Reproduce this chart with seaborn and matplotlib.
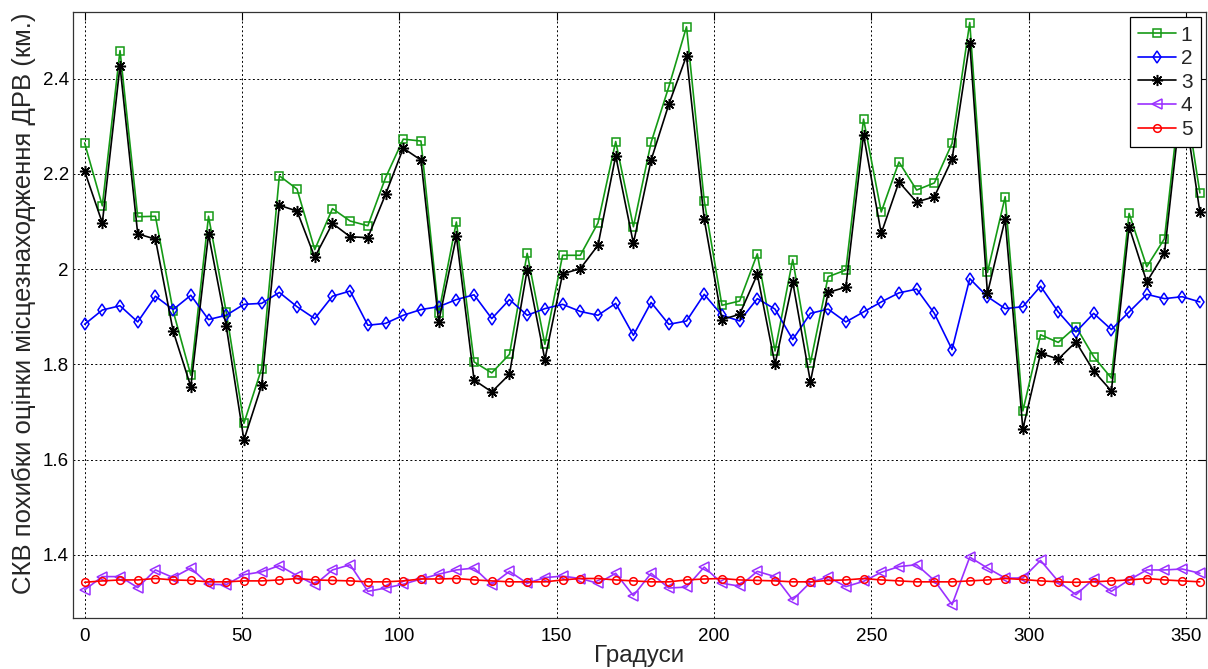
import matplotlib
matplotlib.use("Agg")
import matplotlib.pyplot as plt
from matplotlib.ticker import FuncFormatter
import seaborn as sns

degrees = [0, 5.625, 11.25, 16.875, 22.5, 28.125, 33.75, 39.375,
           45, 50.625, 56.25, 61.875, 67.5, 73.125, 78.75, 84.375,
           90, 95.625, 101.25, 106.875, 112.5, 118.125, 123.75, 129.375,
           135, 140.625, 146.25, 151.875, 157.5, 163.125, 168.75, 174.375,
           180, 185.625, 191.25, 196.875, 202.5, 208.125, 213.75, 219.375,
           225, 230.625, 236.25, 241.875, 247.5, 253.125, 258.75, 264.375,
           270, 275.625, 281.25, 286.875, 292.5, 298.125, 303.75, 309.375,
           315, 320.625, 326.25, 331.875, 337.5, 343.125, 348.75, 354.375]

series_1 = [2.265, 2.133, 2.459, 2.110, 2.111, 1.912, 1.777, 2.111,
            1.910, 1.676, 1.791, 2.196, 2.168, 2.041, 2.127, 2.101,
            2.091, 2.192, 2.273, 2.269, 1.907, 2.099, 1.805, 1.782,
            1.821, 2.033, 1.842, 2.029, 2.029, 2.097, 2.268, 2.089,
            2.266, 2.383, 2.509, 2.144, 1.924, 1.933, 2.032, 1.828,
            2.020, 1.803, 1.984, 1.998, 2.315, 2.120, 2.225, 2.166,
            2.181, 2.264, 2.518, 1.993, 2.152, 1.702, 1.862, 1.846,
            1.879, 1.816, 1.771, 2.117, 2.005, 2.064, 2.400, 2.160]

series_2 = [1.884, 1.914, 1.923, 1.889, 1.943, 1.915, 1.945, 1.894,
            1.903, 1.926, 1.928, 1.951, 1.921, 1.896, 1.943, 1.954,
            1.882, 1.886, 1.903, 1.915, 1.921, 1.936, 1.946, 1.896,
            1.936, 1.903, 1.917, 1.926, 1.911, 1.903, 1.928, 1.861,
            1.930, 1.884, 1.891, 1.947, 1.903, 1.891, 1.938, 1.916,
            1.852, 1.907, 1.916, 1.889, 1.910, 1.931, 1.950, 1.958,
            1.907, 1.831, 1.980, 1.942, 1.917, 1.921, 1.964, 1.910,
            1.868, 1.907, 1.873, 1.910, 1.947, 1.938, 1.942, 1.931]

series_3 = [2.206, 2.097, 2.427, 2.074, 2.063, 1.870, 1.753, 2.073,
            1.880, 1.641, 1.756, 2.134, 2.122, 2.025, 2.096, 2.068,
            2.066, 2.157, 2.254, 2.229, 1.889, 2.069, 1.767, 1.742,
            1.779, 1.999, 1.810, 1.990, 2.001, 2.050, 2.238, 2.054,
            2.229, 2.346, 2.448, 2.105, 1.894, 1.905, 1.989, 1.800,
            1.973, 1.763, 1.951, 1.962, 2.282, 2.075, 2.183, 2.141,
            2.152, 2.231, 2.476, 1.949, 2.105, 1.664, 1.823, 1.811,
            1.847, 1.786, 1.744, 2.089, 1.973, 2.034, 2.370, 2.120]

series_4 = [1.326, 1.354, 1.354, 1.331, 1.368, 1.352, 1.372, 1.338,
            1.337, 1.358, 1.364, 1.377, 1.356, 1.337, 1.368, 1.379,
            1.323, 1.330, 1.338, 1.349, 1.359, 1.368, 1.372, 1.337,
            1.365, 1.340, 1.352, 1.355, 1.350, 1.340, 1.361, 1.314,
            1.361, 1.330, 1.332, 1.374, 1.340, 1.334, 1.365, 1.354,
            1.305, 1.342, 1.353, 1.333, 1.344, 1.363, 1.375, 1.379,
            1.346, 1.295, 1.395, 1.372, 1.351, 1.351, 1.388, 1.344,
            1.316, 1.349, 1.323, 1.347, 1.368, 1.368, 1.370, 1.361]

series_5 = [1.342, 1.345, 1.347, 1.347, 1.350, 1.347, 1.346, 1.343,
            1.343, 1.345, 1.345, 1.347, 1.350, 1.347, 1.346, 1.345,
            1.343, 1.343, 1.345, 1.349, 1.349, 1.350, 1.347, 1.345,
            1.343, 1.343, 1.343, 1.347, 1.350, 1.350, 1.347, 1.345,
            1.343, 1.343, 1.347, 1.349, 1.350, 1.347, 1.346, 1.345,
            1.343, 1.343, 1.346, 1.347, 1.350, 1.347, 1.345, 1.343,
            1.343, 1.343, 1.345, 1.347, 1.350, 1.348, 1.345, 1.343,
            1.342, 1.343, 1.345, 1.347, 1.350, 1.347, 1.345, 1.343]

labels = ["1", "2", "3", "4", "5"]
colors = ["#159a15", "#0000ff", "#000000", "#9b30ff", "#ff0000"]
markers = ["s", "d", (8, 2, 0), "<", "o"]
msizes = [6, 6, 8, 6.5, 5.5]

sns.set_style("white")
plt.rcParams["font.family"] = ["Liberation Sans", "DejaVu Sans"]

fig, ax = plt.subplots(figsize=(12.08, 6.69), dpi=100)
fig.subplots_adjust(left=0.0604, right=0.9983, top=0.982, bottom=0.0762)

all_series = [series_1, series_2, series_3, series_4, series_5]
for lab, vals, col, mk, ms in zip(labels, all_series, colors, markers, msizes):
    sns.lineplot(x=degrees, y=vals, ax=ax, color=col, marker=mk,
                 markersize=ms, markerfacecolor="none", markeredgecolor=col,
                 markeredgewidth=1.1, linewidth=1.2, label=lab)

ax.set_xlim(-3.7, 356.3)
ax.set_ylim(1.267, 2.54)
ax.set_xticks([0, 50, 100, 150, 200, 250, 300, 350])
ax.set_yticks([1.4, 1.6, 1.8, 2.0, 2.2, 2.4])
ax.yaxis.set_major_formatter(FuncFormatter(lambda v, p: "%g" % v))

ax.grid(True, color="black", linestyle=(0, (2, 2.5)), linewidth=0.7)
ax.tick_params(direction="in", top=True, right=True, length=6, width=0.8,
               labelsize=13.5, colors="black")
ax.tick_params(axis="x", pad=7)
ax.tick_params(axis="y", pad=3)
for sp in ax.spines.values():
    sp.set_color("#333333")
    sp.set_linewidth(0.9)

ax.set_xlabel("Градуси", fontsize=17.5, labelpad=0)
ax.set_ylabel("СКВ похибки оцінки місцезнаходження ДРВ (км.)", fontsize=18.5)
ax.yaxis.set_label_coords(-0.033, 0.52)

leg = ax.legend(loc="upper right", fancybox=False, edgecolor="black",
                framealpha=1, fontsize=15, handlelength=1.8,
                borderaxespad=0.25, numpoints=1, labelspacing=0.22,
                borderpad=0.4, handletextpad=0.25)
leg.get_frame().set_linewidth(0.9)

fig.savefig("out.png", dpi=100)
